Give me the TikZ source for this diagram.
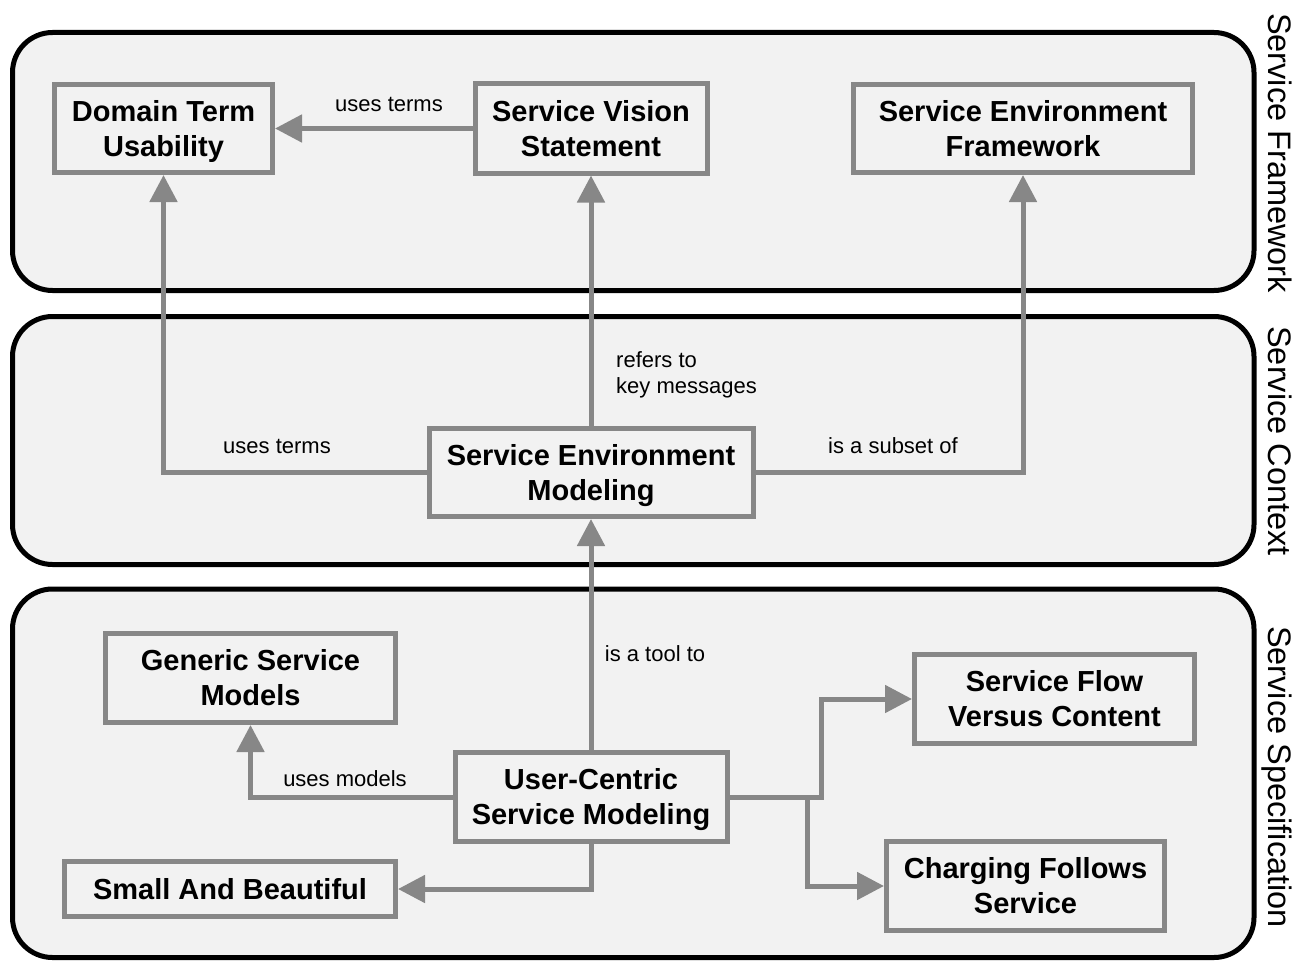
\documentclass[tikz,border=0pt]{standalone}
\usepackage{fontspec}
\setmainfont{Liberation Sans}
\usetikzlibrary{arrows.meta}
\definecolor{panelfill}{HTML}{F2F2F2}
\definecolor{linkgray}{HTML}{878787}

\begin{document}
\begin{tikzpicture}[x=1pt,y=-1pt,
  panel/.style={draw=black, line width=5pt, fill=panelfill, rounded corners=40pt},
  concept/.style={draw=linkgray, line width=5pt, fill=panelfill, align=center,
    inner sep=0pt, text height=55pt, text depth=0pt,
    font=\bfseries\fontsize{29}{35}\selectfont},
  link/.style={draw=linkgray, line width=5pt, -{Triangle[length=27pt,width=27pt]}},
  rel/.style={font=\fontsize{22}{26.5}\selectfont, inner sep=0pt, anchor=base},
  layer/.style={font=\fontsize{32.5}{38}\selectfont, rotate=-90, anchor=base, inner sep=0pt}]

\useasboundingbox[fill=white] (0,0) rectangle (1311,963);

% layer panels
\draw[panel] (12.5,32.5) rectangle (1254,290.5);
\draw[panel] (12.5,316.5) rectangle (1254,564.5);
\draw[panel] (12.5,589) rectangle (1254,957.5);

% layer titles
\node[layer] (t1) at (1268,153) {Service Framework};
\node[layer] (t2) at (1268,441) {Service Context};
\node[layer] (t3) at (1268,777) {Service Specification};

% concepts
\node[concept, minimum width=218pt, minimum height=88pt] (dtu) at (163.5,128.5) {Domain Term\\Usability};
\node[concept, minimum width=232pt, minimum height=89pt] (svs) at (591,128.5) {Service Vision\\Statement};
\node[concept, minimum width=339pt, minimum height=88pt] (sef) at (1023,128.5) {Service Environment\\Framework};
\node[concept, minimum width=324pt, minimum height=88pt] (sem) at (591,472.5) {Service Environment\\Modeling};
\node[concept, minimum width=290pt, minimum height=89pt] (gsm) at (250.5,678) {Generic Service\\Models};
\node[concept, minimum width=331pt, minimum height=55pt, text height=20pt] (sab) at (230,889) {Small And Beautiful};
\node[concept, minimum width=272pt, minimum height=89pt] (ucsm) at (591,797) {User-Centric\\Service Modeling};
\node[concept, minimum width=280pt, minimum height=89pt] (sfvc) at (1054.5,699) {Service Flow\\Versus Content};
\node[concept, minimum width=278pt, minimum height=89pt] (cfs) at (1025.5,886) {Charging Follows\\Service};

% relations
\draw[link] (svs.west) -- (dtu.east);
\draw[link] (sem.north) -- (svs.south);
\draw[link] (sem.west) -| (dtu.south);
\draw[link] (sem.east) -| (sef.south);
\draw[link] (ucsm.north) -- (sem.south);
\draw[link] (ucsm.west) -| (gsm.south);
\draw[link] (ucsm.south) |- (sab.east);
\coordinate (fork) at (807,797);
\coordinate (bend) at (821,797);
\draw[link] (ucsm.east) -- (bend) |- (sfvc.west);
\draw[link] (fork) |- (cfs.west);

% relation labels
\node[rel] (l1) at (389,112) {uses terms};
\node[rel] (l2) at (277,453) {uses terms};
\node[rel] (l3) at (893,453) {is a subset of};
\node[rel, anchor=base west] (l4) at (616,367) {refers to};
\node[rel, anchor=base west] (l5) at (616,393) {key messages};
\node[rel] (l6) at (655,661) {is a tool to};
\node[rel] (l7) at (345,786) {uses models};
\end{tikzpicture}
\end{document}
